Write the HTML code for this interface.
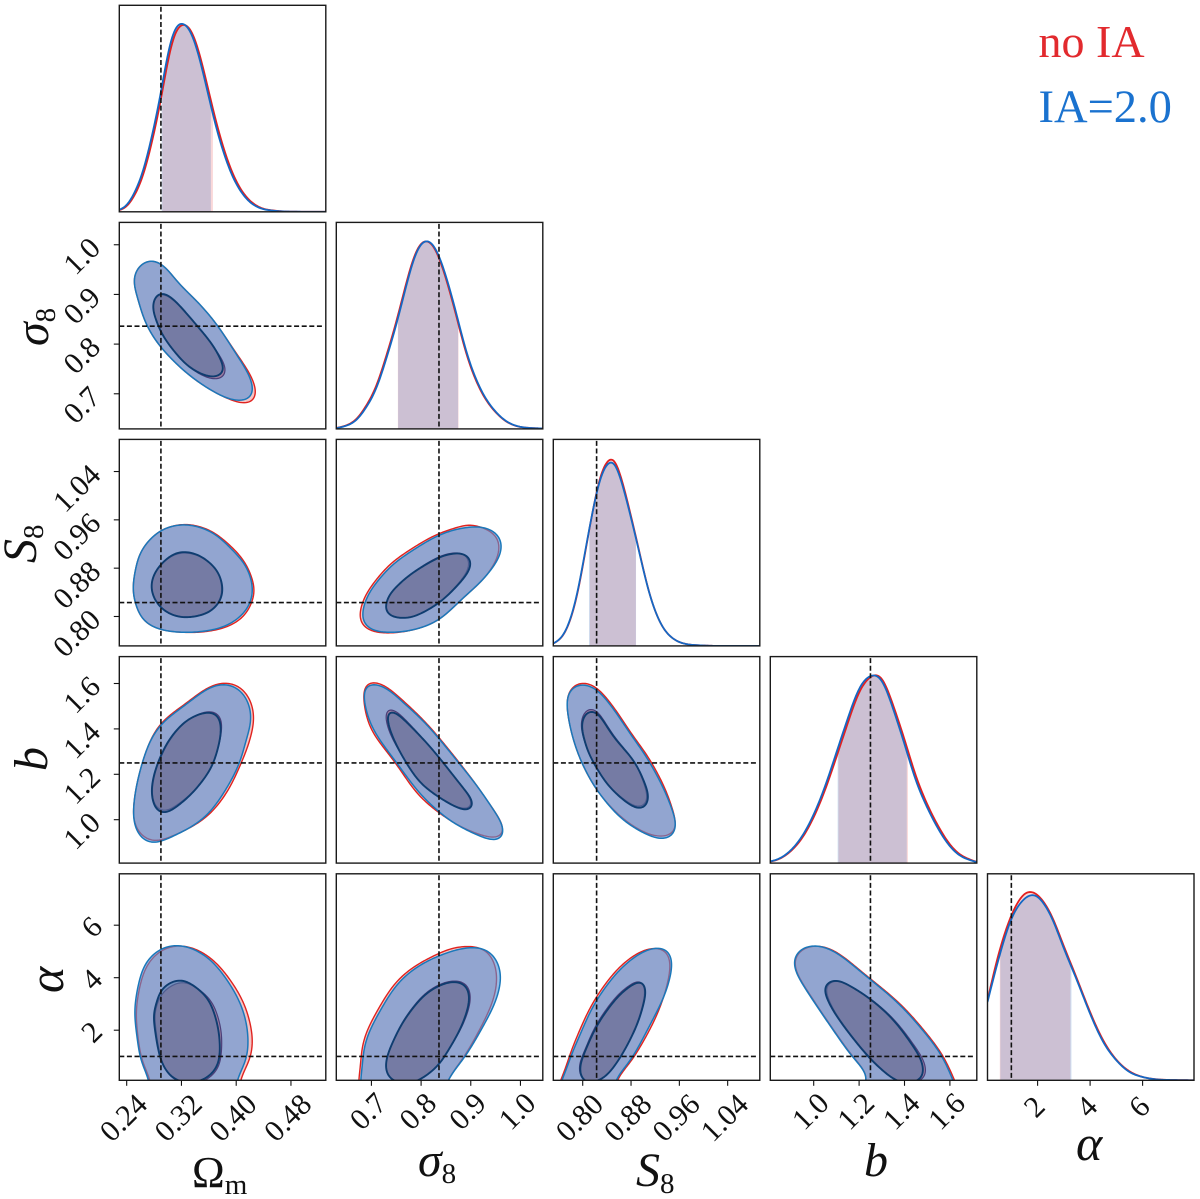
<!DOCTYPE html>
<html lang="en">
<head>
<meta charset="utf-8">
<title>Corner plot: no IA vs IA=2.0</title>
<style>
html,body{margin:0;padding:0;background:#fff;}
svg{display:block;}
text{font-family:"Liberation Serif","DejaVu Serif",serif;fill:#111;}
</style>
</head>
<body>
<svg id="chart" xmlns="http://www.w3.org/2000/svg" width="1200" height="1199" viewBox="0 0 1200 1199">
  <defs id="defs"></defs>
  <g id="panels"></g>
  <g id="labels"></g>
  <g>
    <text x="1038.5" y="57" font-size="46" style="fill:#e22a2e">no IA</text>
    <text x="1038.5" y="122" font-size="46.5" style="fill:#1a72cf">IA=2.0</text>
  </g>
</svg>
<script>
// ---- axis domains and truth values ----
const domOm = [0.2292, 0.5309];
const domSig = [0.6293, 1.0450];
const domS8 = [0.7513, 1.0932];
const domB = [0.8088, 1.7185];
const domA = [0.0914, 7.958];
const truthValues = [0.29, 0.836, 0.823, 1.25, 1.0];

// ---- tick values and labels ----
const ticksOm = [0.24, 0.32, 0.40, 0.48];
const ticksSig = [0.7, 0.8, 0.9, 1.0];
const ticksS8 = [0.80, 0.88, 0.96, 1.04];
const ticksB = [1.0, 1.2, 1.4, 1.6];
const ticksA = [2, 4, 6];
const tickLabelsOm = ['0.24', '0.32', '0.40', '0.48'];
const tickLabelsSig = ['0.7', '0.8', '0.9', '1.0'];
const tickLabelsS8 = ['0.80', '0.88', '0.96', '1.04'];
const tickLabelsB = ['1.0', '1.2', '1.4', '1.6'];
const tickLabelsA = ['2', '4', '6'];

// ---- 1D marginals ----
const gridOm = [.23,.24,.25,.26,.27,.28,.29,.30,.31,.32,.33,.34,.35,.36,.37,.38,.39,.40,.41,.42,.43,.44,.46,.48,.53];
const pdfOmBlue = [.011,.034,.096,.176,.30,.46,.63,.843,.968,1.0,.977,.897,.763,.612,.46,.336,.23,.15,.093,.052,.028,.014,.004,.001,0];
const pdfOmRed = [.009,.028,.082,.155,.272,.425,.595,.80,.945,.99,.985,.915,.79,.64,.49,.36,.25,.165,.103,.06,.033,.016,.005,.001,0];
const bandOmBlue = [.291, .363];
const bandOmRed = [.292, .366];

const gridSig = [.63,.65,.67,.69,.71,.73,.75,.77,.79,.81,.83,.85,.87,.89,.91,.93,.95,.97,.99,1.01,1.045];
const pdfSigBlue = [.004,.018,.048,.119,.217,.377,.555,.76,.937,1.0,.955,.813,.626,.422,.271,.164,.093,.044,.018,.007,.002];
const pdfSigRed = [.005,.02,.053,.128,.23,.392,.57,.775,.945,1.0,.948,.8,.612,.41,.262,.158,.09,.042,.017,.007,.002];
const bandSigBlue = [.7537, .8745];
const bandSigRed = [.7532, .8753];

const gridS8 = [.75,.77,.79,.81,.83,.84,.85,.86,.87,.89,.91,.93,.95,.97,.99,1.02,1.09];
const pdfS8Blue = [.009,.071,.266,.61,.904,.954,.984,.913,.807,.55,.284,.115,.039,.011,.004,0,0];
const pdfS8Red = [.009,.069,.26,.605,.915,.968,1.0,.93,.82,.556,.285,.115,.039,.011,.004,0,0];
const bandS8Blue = [.8104, .8883];
const bandS8Red = [.8118, .888];

const gridB = [.81,.85,.9,.95,1,1.05,1.1,1.15,1.2,1.25,1.3,1.35,1.4,1.45,1.5,1.55,1.6,1.65,1.72];
const pdfBBlue = [.009,.025,.07,.146,.26,.41,.59,.77,.93,.996,.973,.82,.635,.44,.297,.18,.09,.036,.004];
const pdfBRed = [.008,.023,.065,.136,.245,.39,.565,.745,.91,.99,.985,.84,.66,.465,.315,.195,.1,.042,.005];
const bandBBlue = [1.1055, 1.41];
const bandBRed = [1.109, 1.415];

const gridA = [.09,.5,1,1.5,1.8,2,2.5,3,3.5,4,4.5,5,5.5,6,6.5,7,8];
const pdfABlue = [.417,.639,.861,.968,.986,.98,.879,.702,.533,.355,.204,.107,.044,.018,.005,.002,0];
const pdfARed = [.426,.666,.879,.995,1.0,.989,.888,.714,.542,.364,.213,.11,.048,.018,.006,.002,0];
const bandABlue = [.58, 3.29];
const bandARed = [.56, 3.25];

// ---- 2D contours: [x value, y value] ----
const blueOuter_Sig_Om = [[.2511,.9364],[.2692,.9666],[.2911,.960],[.3179,.9197],[.3471,.8795],[.3715,.8392],[.3958,.7889],[.4177,.7386],[.4241,.705],[.4177,.6897],[.3958,.6883],[.3665,.705],[.3277,.742],[.2911,.7923],[.2692,.8392],[.257,.8895]];
const redOuter_Sig_Om = [[.2511,.9364],[.2692,.9666],[.2911,.960],[.3179,.9197],[.3471,.8795],[.3715,.8392],[.3965,.7889],[.42,.7386],[.4285,.702],[.4225,.6832],[.402,.684],[.3665,.705],[.3277,.742],[.2911,.7923],[.2692,.8392],[.257,.8895]];
const blueInner_Sig_Om = [[.2789,.8795],[.2887,.9016],[.3081,.8895],[.3373,.8459],[.3665,.7956],[.3803,.7553],[.3763,.7386],[.3569,.7366],[.3277,.7588],[.2985,.8057],[.2838,.8459]];
const redInner_Sig_Om = [[.2789,.8795],[.2887,.9],[.3081,.888],[.3373,.8459],[.3665,.7956],[.383,.7553],[.379,.733],[.3569,.7336],[.3277,.7588],[.2985,.8057],[.2838,.8459]];

const blueOuter_S8_Om = [[.2497,.853],[.2574,.8972],[.2702,.922],[.2907,.9424],[.3163,.9512],[.3394,.9495],[.3676,.9369],[.3958,.9081],[.4137,.8833],[.4229,.853],[.4215,.8281],[.4086,.8033],[.383,.784],[.3522,.7757],[.3215,.774],[.2907,.7785],[.2676,.7912],[.2574,.8088],[.2512,.831]];
const redOuter_S8_Om = [[.2497,.853],[.2574,.8972],[.2702,.922],[.2907,.9424],[.3163,.9515],[.3394,.9505],[.3676,.9385],[.398,.9095],[.4155,.8833],[.425,.853],[.4255,.835],[.4125,.803],[.386,.783],[.3522,.7747],[.3215,.774],[.2907,.7785],[.2676,.7912],[.2574,.8088],[.2512,.831]];
const blueInner_S8_Om = [[.2764,.8502],[.283,.875],[.3009,.8972],[.3215,.9065],[.3471,.8999],[.3702,.8778],[.3794,.8502],[.3753,.8253],[.3573,.8061],[.3266,.7988],[.3009,.8061],[.283,.8253]];
const redInner_S8_Om = [[.2764,.8502],[.283,.875],[.3009,.896],[.3215,.905],[.3471,.899],[.3702,.8778],[.3785,.8502],[.3745,.8253],[.3565,.8065],[.3266,.7995],[.3009,.8065],[.283,.8253]];

const blueOuter_S8_Sig = [[.6823,.8005],[.6942,.8364],[.7366,.8806],[.786,.9109],[.8355,.9341],[.8778,.9452],[.9203,.9478],[.9485,.9386],[.9612,.922],[.9555,.8972],[.9273,.8641],[.885,.831],[.8355,.795],[.786,.7785],[.7366,.774],[.7012,.7785],[.6857,.7896]];
const redOuter_S8_Sig = [[.677,.8005],[.6895,.8364],[.733,.8825],[.782,.9125],[.8325,.936],[.8778,.948],[.9,.952],[.943,.9386],[.956,.922],[.9525,.8972],[.9273,.8641],[.885,.831],[.8355,.795],[.786,.7785],[.7366,.773],[.6985,.777],[.681,.788]];
const blueInner_S8_Sig = [[.7296,.8171],[.74,.8392],[.7789,.8695],[.8355,.8972],[.8743,.9043],[.8955,.8972],[.8977,.8806],[.8778,.8558],[.8355,.8227],[.786,.8005],[.7507,.7988],[.733,.8061]];
const redInner_S8_Sig = [[.7296,.8171],[.74,.8392],[.7789,.87],[.8355,.8985],[.8743,.905],[.8925,.8972],[.8945,.8806],[.876,.8558],[.8355,.8227],[.786,.8005],[.7507,.7988],[.733,.8061]];

const blueOuter_B_Om = [[.2502,1.029],[.2548,1.154],[.2702,1.315],[.2907,1.419],[.3266,1.507],[.3573,1.573],[.3778,1.595],[.3983,1.583],[.4137,1.536],[.4215,1.448],[.4137,1.345],[.4035,1.242],[.383,1.125],[.3573,1.022],[.3266,.956],[.2907,.9075],[.2805,.897],[.2651,.912],[.2537,.963]];
const redOuter_B_Om = [[.2502,1.029],[.2548,1.154],[.2702,1.315],[.2907,1.425],[.3266,1.512],[.3573,1.578],[.3778,1.6],[.4,1.592],[.4175,1.54],[.4255,1.45],[.4185,1.34],[.406,1.242],[.387,1.125],[.3598,1.022],[.3266,.956],[.2907,.912],[.2805,.905],[.2651,.925],[.2537,.97]];
const blueInner_B_Om = [[.2768,1.125],[.283,1.227],[.3009,1.345],[.3266,1.433],[.3548,1.47],[.3727,1.455],[.3769,1.374],[.3651,1.242],[.342,1.139],[.3163,1.066],[.2958,1.032],[.283,1.051]];
const redInner_B_Om = [[.2775,1.125],[.2838,1.227],[.302,1.345],[.328,1.435],[.3575,1.475],[.3755,1.455],[.3775,1.374],[.3651,1.242],[.342,1.139],[.3163,1.072],[.2958,1.04],[.283,1.06]];

const blueOuter_B_Sig = [[.6857,1.573],[.6928,1.594],[.7225,1.587],[.7648,1.514],[.8144,1.411],[.8707,1.264],[.9203,1.125],[.9627,.978],[.9647,.934],[.9521,.9075],[.9062,.941],[.8566,1.0],[.8003,1.11],[.7507,1.251],[.7083,1.382],[.6907,1.477]];
const redOuter_B_Sig = [[.6857,1.58],[.695,1.605],[.7235,1.593],[.7665,1.518],[.8155,1.413],[.8715,1.266],[.9203,1.125],[.9627,.98],[.9647,.938],[.9521,.92],[.9062,.945],[.8566,1.0],[.797,1.105],[.748,1.251],[.704,1.382],[.6885,1.477]];
const blueInner_B_Sig = [[.733,1.455],[.74,1.477],[.7648,1.441],[.8144,1.33],[.8637,1.198],[.8991,1.095],[.9026,1.059],[.8885,1.044],[.8496,1.081],[.8003,1.161],[.7648,1.271],[.74,1.382]];
const redInner_B_Sig = [[.7295,1.46],[.737,1.488],[.7625,1.452],[.8125,1.335],[.8637,1.198],[.8975,1.095],[.9,1.059],[.886,1.05],[.8496,1.081],[.8003,1.161],[.7648,1.271],[.7375,1.382]];

const blueOuter_B_S8 = [[.7745,1.507],[.7785,1.565],[.795,1.594],[.8199,1.577],[.8474,1.499],[.8778,1.382],[.9081,1.264],[.9358,1.125],[.9523,1.0],[.9512,.941],[.9329,.916],[.9026,.941],[.8639,1.007],[.8253,1.125],[.7977,1.257],[.7811,1.389]];
const redOuter_B_S8 = [[.7745,1.507],[.7795,1.572],[.7985,1.603],[.8225,1.58],[.85,1.499],[.88,1.382],[.911,1.264],[.938,1.125],[.9523,1.0],[.9512,.945],[.93,.928],[.9026,.945],[.8639,1.012],[.8253,1.125],[.7977,1.257],[.7811,1.389]];
const blueInner_B_S8 = [[.7993,1.426],[.8088,1.473],[.8253,1.463],[.853,1.36],[.8861,1.251],[.9053,1.139],[.907,1.081],[.897,1.051],[.875,1.073],[.8419,1.154],[.8142,1.271],[.8022,1.36]];
const redInner_B_S8 = [[.798,1.43],[.8075,1.483],[.8245,1.473],[.853,1.365],[.8861,1.251],[.9035,1.139],[.905,1.081],[.895,1.058],[.875,1.078],[.8419,1.154],[.8142,1.271],[.8015,1.36]];

const blueOuter_A_Om = [[.287,-.7],[.274,.11],[.2619,.75],[.2546,1.89],[.2521,2.9],[.2619,4.18],[.274,4.75],[.2911,5.09],[.3081,5.22],[.3325,5.13],[.3617,4.68],[.3861,3.92],[.4056,3.03],[.4154,2.14],[.4168,1.38],[.4129,.75],[.3997,.11],[.387,-.7]];
const redOuter_A_Om = [[.289,-.7],[.276,.11],[.2635,.75],[.256,1.89],[.2545,2.9],[.264,4.1],[.2765,4.7],[.2935,5.06],[.3105,5.2],[.3355,5.13],[.3645,4.7],[.39,3.95],[.4105,3.05],[.4205,2.2],[.4235,1.5],[.4185,.8],[.4045,.11],[.392,-.7]];
const blueInner_A_Om = [[.2799,2.4],[.2838,3.03],[.2935,3.6],[.3179,3.9],[.3423,3.6],[.3617,3.03],[.3738,2.02],[.3753,1.0],[.3665,.43],[.3471,.08],[.3227,.04],[.3033,.3],[.2887,1.0]];
const redInner_A_Om = [[.2815,2.4],[.2855,3.03],[.296,3.5],[.3205,3.82],[.345,3.55],[.3655,3.0],[.3775,2.02],[.3775,1.0],[.3695,.43],[.35,.05],[.3227,.02],[.3033,.28],[.2895,1.0]];

const blueOuter_A_Sig = [[.692,-.7],[.6827,.7],[.6913,1.71],[.7215,2.86],[.7552,3.81],[.7954,4.44],[.8357,4.82],[.8826,5.1],[.9295,5.08],[.9531,4.57],[.9598,4.0],[.9497,3.11],[.9229,2.09],[.8893,1.02],[.8524,.1],[.825,-.7]];
const redOuter_A_Sig = [[.688,-.7],[.679,.7],[.687,1.75],[.717,2.9],[.751,3.85],[.7915,4.48],[.8325,4.88],[.87,5.15],[.925,5.1],[.945,4.6],[.952,4.0],[.944,3.11],[.9195,2.09],[.8875,1.02],[.8524,.1],[.825,-.7]];
const blueInner_A_Sig = [[.7296,.7],[.7383,1.33],[.7652,2.35],[.8021,3.24],[.8357,3.68],[.8659,3.83],[.8893,3.68],[.8961,3.11],[.8826,2.22],[.8558,1.27],[.8289,.57],[.7886,.05],[.7552,.02],[.7349,.25]];
const redInner_A_Sig = [[.7296,.7],[.7383,1.33],[.7652,2.38],[.8021,3.28],[.8357,3.72],[.8659,3.87],[.8915,3.72],[.8985,3.11],[.884,2.22],[.8558,1.27],[.8289,.57],[.7886,.05],[.7552,.02],[.7349,.25]];

const blueOuter_A_S8 = [[.763,-.7],[.774,.57],[.7934,1.71],[.8209,3.05],[.8596,4.25],[.8982,4.95],[.9285,5.13],[.9434,4.95],[.9467,4.38],[.9368,3.43],[.9147,2.35],[.8816,.95],[.8539,.1],[.838,-.7]];
const redOuter_A_S8 = [[.761,-.7],[.772,.57],[.7905,1.75],[.8185,3.1],[.857,4.3],[.896,4.98],[.925,5.11],[.94,4.95],[.944,4.38],[.936,3.43],[.917,2.3],[.884,.95],[.856,.1],[.84,-.7]];
const blueInner_A_S8 = [[.796,.57],[.8043,1.21],[.8265,2.28],[.8596,3.3],[.8899,3.81],[.901,3.74],[.9026,3.24],[.8899,2.22],[.8651,1.08],[.8402,.31],[.8182,.04],[.8017,.1]];
const redInner_A_S8 = [[.7945,.57],[.803,1.21],[.825,2.3],[.858,3.33],[.8885,3.84],[.8995,3.77],[.9015,3.24],[.889,2.22],[.8651,1.08],[.8402,.31],[.8182,.04],[.8017,.1]];

const blueOuter_A_B = [[.9101,4.57],[.922,4.89],[.9806,5.21],[1.0837,5.02],[1.2304,4.06],[1.3771,2.98],[1.4947,1.84],[1.5683,.95],[1.5974,.31],[1.605,-.7],[1.205,-.7],[1.245,.1],[1.1718,.95],[1.0687,2.22],[.9806,3.36],[.9295,4.12]];
const redOuter_A_B = [[.9125,4.57],[.925,4.87],[.985,5.2],[1.0875,5.03],[1.2345,4.06],[1.383,2.98],[1.5,1.84],[1.574,.95],[1.604,.31],[1.612,-.7],[1.205,-.7],[1.245,.1],[1.1718,.98],[1.0687,2.25],[.9806,3.4],[.932,4.12]];
const blueInner_A_B = [[1.0485,3.57],[1.0687,3.81],[1.1128,3.87],[1.2304,3.3],[1.348,2.41],[1.4507,1.21],[1.4802,.57],[1.4652,.12],[1.3771,.05],[1.2744,.7],[1.1718,1.71],[1.0837,2.79]];
const redInner_A_B = [[1.055,3.57],[1.0745,3.8],[1.118,3.85],[1.236,3.28],[1.355,2.39],[1.4585,1.21],[1.4915,.57],[1.476,.12],[1.384,.03],[1.28,.68],[1.1765,1.69],[1.089,2.77]];

// ---- layout ----
const PANEL = 206.5;
const colLeft = [119.3, 336.3, 553.3, 770.3, 987.5];
const rowTop = [5.3, 222.4, 439.4, 656.6, 873.8];
const PDF_TOP = 1.1013;
const NS = 'http://www.w3.org/2000/svg';
const domains = [domOm, domSig, domS8, domB, domA];
const tickSets = [ticksOm, ticksSig, ticksS8, ticksB, ticksA];
const tickLabelSets = [tickLabelsOm, tickLabelsSig, tickLabelsS8, tickLabelsB, tickLabelsA];
const paramNames = ['omega-m', 'sigma-8', 's-8', 'b', 'alpha'];

const RED_LINE = '#e3201f', BLUE_LINE = '#1468c4';
const marginals = [
  {grid: gridOm, red: pdfOmRed, blue: pdfOmBlue, rb: bandOmRed, bb: bandOmBlue},
  {grid: gridSig, red: pdfSigRed, blue: pdfSigBlue, rb: bandSigRed, bb: bandSigBlue},
  {grid: gridS8, red: pdfS8Red, blue: pdfS8Blue, rb: bandS8Red, bb: bandS8Blue},
  {grid: gridB, red: pdfBRed, blue: pdfBBlue, rb: bandBRed, bb: bandBBlue},
  {grid: gridA, red: pdfARed, blue: pdfABlue, rb: bandARed, bb: bandABlue}
];
const contourPanels = [
  {c: 0, r: 1, ro: redOuter_Sig_Om, ri: redInner_Sig_Om, bo: blueOuter_Sig_Om, bi: blueInner_Sig_Om},
  {c: 0, r: 2, ro: redOuter_S8_Om, ri: redInner_S8_Om, bo: blueOuter_S8_Om, bi: blueInner_S8_Om},
  {c: 1, r: 2, ro: redOuter_S8_Sig, ri: redInner_S8_Sig, bo: blueOuter_S8_Sig, bi: blueInner_S8_Sig},
  {c: 0, r: 3, ro: redOuter_B_Om, ri: redInner_B_Om, bo: blueOuter_B_Om, bi: blueInner_B_Om},
  {c: 1, r: 3, ro: redOuter_B_Sig, ri: redInner_B_Sig, bo: blueOuter_B_Sig, bi: blueInner_B_Sig},
  {c: 2, r: 3, ro: redOuter_B_S8, ri: redInner_B_S8, bo: blueOuter_B_S8, bi: blueInner_B_S8},
  {c: 0, r: 4, ro: redOuter_A_Om, ri: redInner_A_Om, bo: blueOuter_A_Om, bi: blueInner_A_Om},
  {c: 1, r: 4, ro: redOuter_A_Sig, ri: redInner_A_Sig, bo: blueOuter_A_Sig, bi: blueInner_A_Sig},
  {c: 2, r: 4, ro: redOuter_A_S8, ri: redInner_A_S8, bo: blueOuter_A_S8, bi: blueInner_A_S8},
  {c: 3, r: 4, ro: redOuter_A_B, ri: redInner_A_B, bo: blueOuter_A_B, bi: blueInner_A_B}
];

// ---- axis functions ----
function xScale(col, v) {
  const d = domains[col];
  return colLeft[col] + (v - d[0]) / (d[1] - d[0]) * PANEL;
}
function yScale(row, v) {
  const d = domains[row];
  return rowTop[row] + PANEL - (v - d[0]) / (d[1] - d[0]) * PANEL;
}
function pdfY(row, v) {
  return rowTop[row] + PANEL - v / PDF_TOP * PANEL;
}

function make(tag, attrs, parent) {
  const el = document.createElementNS(NS, tag);
  for (const k in attrs) el.setAttribute(k, attrs[k]);
  parent.appendChild(el);
  return el;
}

function gaussKernel(sigma) {
  const r = Math.ceil(sigma * 3), k = [];
  let sum = 0;
  for (let i = -r; i <= r; i++) {
    const w = Math.exp(-i * i / (2 * sigma * sigma));
    k.push(w);
    sum += w;
  }
  return k.map(function (w) { return w / sum; });
}

// Smooth low-pass: 2G - G*G keeps the broad shape and removes reading jitter.
function lowPass(arr, sigma, access) {
  const k = gaussKernel(sigma), r = (k.length - 1) / 2;
  const conv = function (src) {
    return src.map(function (_, i) {
      let s = 0;
      for (let j = -r; j <= r; j++) s += k[j + r] * access(src, i + j);
      return s;
    });
  };
  const g = conv(arr), gg = conv(g);
  return arr.map(function (_, i) { return 2 * g[i] - gg[i]; });
}

function smoothClosedPath(pts) {
  const n = pts.length, dense = [];
  for (let i = 0; i < n; i++) {
    const p0 = pts[(i - 1 + n) % n], p1 = pts[i], p2 = pts[(i + 1) % n], p3 = pts[(i + 2) % n];
    for (let s = 0; s < 16; s++) {
      const t = s / 16, t2 = t * t, t3 = t2 * t;
      dense.push([0, 1].map(function (a) {
        return 0.5 * (2 * p1[a] + (p2[a] - p0[a]) * t + (2 * p0[a] - 5 * p1[a] + 4 * p2[a] - p3[a]) * t2 + (3 * p1[a] - p0[a] - 3 * p2[a] + p3[a]) * t3);
      }));
    }
  }
  const cum = [0];
  for (let i = 1; i <= dense.length; i++) {
    const a = dense[i - 1], b = dense[i % dense.length];
    cum.push(cum[i - 1] + Math.hypot(b[0] - a[0], b[1] - a[1]));
  }
  const perim = cum[cum.length - 1], step = 1.5, count = Math.floor(perim / step);
  const xs = [], ys = [];
  let seg = 0;
  for (let i = 0; i < count; i++) {
    const d = i * perim / count;
    while (cum[seg + 1] < d) seg++;
    const f = (d - cum[seg]) / Math.max(1e-6, cum[seg + 1] - cum[seg]);
    const a = dense[seg], b = dense[(seg + 1) % dense.length];
    xs.push(a[0] + (b[0] - a[0]) * f);
    ys.push(a[1] + (b[1] - a[1]) * f);
  }
  const sigma = perim * 0.025 / step;
  const wrap = function (src, i) { return src[((i % count) + count) % count]; };
  const sx = lowPass(xs, sigma, wrap), sy = lowPass(ys, sigma, wrap);
  let d = '';
  for (let i = 0; i < count; i++) d += (i ? 'L' : 'M') + sx[i].toFixed(2) + ' ' + sy[i].toFixed(2);
  return d + 'Z';
}

function evalPdf(xs, ys, x) {
  const n = xs.length;
  if (x <= xs[0]) return ys[0];
  if (x >= xs[n - 1]) return ys[n - 1];
  let i = 0;
  while (x > xs[i + 1]) i++;
  const h = xs[i + 1] - xs[i], t = (x - xs[i]) / h;
  const m0 = i > 0 ? (ys[i + 1] - ys[i - 1]) / (xs[i + 1] - xs[i - 1]) : (ys[1] - ys[0]) / (xs[1] - xs[0]);
  const m1 = i < n - 2 ? (ys[i + 2] - ys[i]) / (xs[i + 2] - xs[i]) : (ys[n - 1] - ys[n - 2]) / (xs[n - 1] - xs[n - 2]);
  const t2 = t * t, t3 = t2 * t;
  return (2 * t3 - 3 * t2 + 1) * ys[i] + (t3 - 2 * t2 + t) * h * m0 + (-2 * t3 + 3 * t2) * ys[i + 1] + (t3 - t2) * h * m1;
}

// Dense smooth marginal over the panel's domain, one sample per pixel column.
function densePdf(col, grid, values) {
  const d = domains[col], N = Math.round(PANEL);
  const vals = [], ys = [];
  for (let k = 0; k <= N; k++) {
    vals.push(d[0] + (d[1] - d[0]) * k / N);
    ys.push(evalPdf(grid, values, vals[k]));
  }
  const odd = function (src, i) {
    const L = src.length - 1;
    if (i < 0) return 2 * src[0] - src[-i];
    if (i > L) return 2 * src[L] - src[2 * L - i];
    return src[i];
  };
  const smooth = lowPass(ys, 5, odd).map(function (y) { return Math.max(0, y); });
  return {vals: vals, ys: smooth};
}
function lookup(dense, v) {
  const d = dense.vals, n = d.length;
  let i = Math.floor((v - d[0]) / (d[n - 1] - d[0]) * (n - 1));
  i = Math.max(0, Math.min(n - 2, i));
  const f = (v - d[i]) / (d[i + 1] - d[i]);
  return dense.ys[i] + (dense.ys[i + 1] - dense.ys[i]) * f;
}

const panelsRoot = document.getElementById('panels');
const labelsRoot = document.getElementById('labels');
const defsRoot = document.getElementById('defs');

function clipFor(c, r) {
  const id = 'clip-' + c + '-' + r;
  const cp = make('clipPath', {id: id}, defsRoot);
  make('rect', {x: colLeft[c], y: rowTop[r], width: PANEL, height: PANEL}, cp);
  return id;
}

function truthLines(g, c, r, diag) {
  const vx = xScale(c, truthValues[c]);
  const v = make('line', {x1: vx, x2: vx, y1: rowTop[r] + 1.5, y2: rowTop[r] + PANEL, stroke: '#111', 'stroke-width': 1.6, 'stroke-dasharray': '5 2.6'}, g);
  
  
  if (!diag) {
    const hy = yScale(r, truthValues[r]);
    const h = make('line', {x1: colLeft[c], x2: colLeft[c] + PANEL - 1.5, y1: hy, y2: hy, stroke: '#111', 'stroke-width': 1.6, 'stroke-dasharray': '5 2.6'}, g);
    
    
  }
}

function frame(g, c, r) {
  const f = make('rect', {x: colLeft[c], y: rowTop[r], width: PANEL, height: PANEL, fill: 'none', stroke: '#1a1a1a', 'stroke-width': 1.4}, g);
  
  
}

// ---- marginal panels ----
marginals.forEach(function (m, i) {
  const g = make('g', {'clip-path': 'url(#' + clipFor(i, i) + ')'}, panelsRoot);
  
  
  const denseRed = densePdf(i, m.grid, m.red);
  const denseBlue = densePdf(i, m.grid, m.blue);

  [[m.rb, denseRed, 'rgba(227,26,28,0.17)', 'red'], [m.bb, denseBlue, 'rgba(21,101,192,0.2)', 'blue']].forEach(function (s) {
    const pts = [[xScale(i, s[0][0]), rowTop[i] + PANEL]];
    for (let k = 0; k <= 80; k++) {
      const v = s[0][0] + (s[0][1] - s[0][0]) * k / 80;
      pts.push([xScale(i, v), pdfY(i, lookup(s[1], v))]);
    }
    pts.push([xScale(i, s[0][1]), rowTop[i] + PANEL]);
    const band = make('polygon', {points: pts.map(function (p) { return p[0].toFixed(2) + ',' + p[1].toFixed(2); }).join(' '), fill: s[2]}, g);
    
    
  });

  [[denseRed, RED_LINE, 'red'], [denseBlue, BLUE_LINE, 'blue']].forEach(function (s) {
    const pts = s[0].vals.map(function (v, k) {
      return xScale(i, v).toFixed(2) + ',' + pdfY(i, s[0].ys[k]).toFixed(2);
    });
    const line = make('polyline', {points: pts.join(' '), fill: 'none', stroke: s[1], 'stroke-width': 1.8}, g);
    
    
  });

  truthLines(g, i, i, true);
  frame(panelsRoot, i, i);
});

// ---- contour panels ----
contourPanels.forEach(function (p) {
  const g = make('g', {'clip-path': 'url(#' + clipFor(p.c, p.r) + ')'}, panelsRoot);
  
  
  const toPx = function (arr) {
    return arr.map(function (q) { return [xScale(p.c, q[0]), yScale(p.r, q[1])]; });
  };
  const layers = [
    [p.ro, 'rgba(235,150,150,0.55)', '#e0231f', 1.4, 'contour-outer-red'],
    [p.bo, 'rgba(80,143,215,0.6)', '#1a78ba', 1.5, 'contour-outer-blue'],
    [p.ri, 'rgba(165,70,95,0.42)', '#4b3f78', 1.2, 'contour-inner-red'],
    [p.bi, 'rgba(81,122,168,0.5)', '#0f3d70', 1.9, 'contour-inner-blue']
  ];
  layers.forEach(function (l) {
    const path = make('path', {d: smoothClosedPath(toPx(l[0])), fill: l[1], stroke: l[2], 'stroke-width': l[3], 'stroke-linejoin': 'round'}, g);
    
    
  });
  truthLines(g, p.c, p.r, false);
  frame(panelsRoot, p.c, p.r);
});

// ---- ticks and tick labels ----
const TICK_FONT = 30;
function xLabelCenterY(s) {
  if (s.length === 1) return 1107;
  if (s.length === 3) return 1111.5;
  return 1118;
}
function yLabelOffset(s) {
  if (s.length === 1) return [92, 2];
  if (s.length === 3) return [82, 11.5];
  return [77, 17];
}
for (let c = 0; c < 5; c++) {
  tickSets[c].forEach(function (v, k) {
    const x = xScale(c, v);
    const bottom = rowTop[4] + PANEL;
    const t = make('line', {x1: x, x2: x, y1: bottom, y2: bottom + 5.5, stroke: '#111', 'stroke-width': 1.1}, panelsRoot);
    
    
    const s = tickLabelSets[c][k];
    const cx = x - 3, cy = xLabelCenterY(s);
    const lab = make('text', {x: cx, y: cy, 'font-size': TICK_FONT, 'text-anchor': 'middle', 'dominant-baseline': 'central', transform: 'rotate(-45 ' + cx + ' ' + cy + ')'}, labelsRoot);
    lab.textContent = s;
    
    
  });
}
for (let r = 1; r < 5; r++) {
  tickSets[r].forEach(function (v, k) {
    const y = yScale(r, v);
    const t = make('line', {x1: colLeft[0] - 5.5, x2: colLeft[0], y1: y, y2: y, stroke: '#111', 'stroke-width': 1.1}, panelsRoot);
    
    
    const s = tickLabelSets[r][k];
    const off = yLabelOffset(s);
    const cx = off[0], cy = y + off[1];
    const lab = make('text', {x: cx, y: cy, 'font-size': TICK_FONT, 'text-anchor': 'middle', 'dominant-baseline': 'central', transform: 'rotate(-45 ' + cx + ' ' + cy + ')'}, labelsRoot);
    lab.textContent = s;
    
    
  });
}

// ---- axis titles ----
function axisTitle(name, main, sub, italic, size, x, y, rotate) {
  const attrs = {x: x, y: y, 'font-size': size};
  if (rotate) attrs.transform = 'rotate(-90 ' + x + ' ' + y + ')';
  const t = make('text', attrs, labelsRoot);
  
  
  const m = make('tspan', {'font-style': italic ? 'italic' : 'normal'}, t);
  m.textContent = main;
  if (sub) {
    const s = make('tspan', {'font-size': 29, dy: 7}, t);
    s.textContent = sub;
  }
}
axisTitle('x-axis-title-omega-m', 'Ω', 'm', false, 44, 192, 1187, false);
axisTitle('x-axis-title-sigma-8', 'σ', '8', true, 48, 418, 1176, false);
axisTitle('x-axis-title-s-8', 'S', '8', true, 48, 636, 1186, false);
axisTitle('x-axis-title-b', 'b', '', true, 48, 864, 1176, false);
axisTitle('x-axis-title-alpha', 'α', '', true, 50, 1076, 1160, false);
axisTitle('y-axis-title-sigma-8', 'σ', '8', true, 48, 48, 346, true);
axisTitle('y-axis-title-s-8', 'S', '8', true, 48, 36, 563, true);
axisTitle('y-axis-title-b', 'b', '', true, 48, 47, 771, true);
axisTitle('y-axis-title-alpha', 'α', '', true, 50, 63, 993, true);
</script>
</body>
</html>
